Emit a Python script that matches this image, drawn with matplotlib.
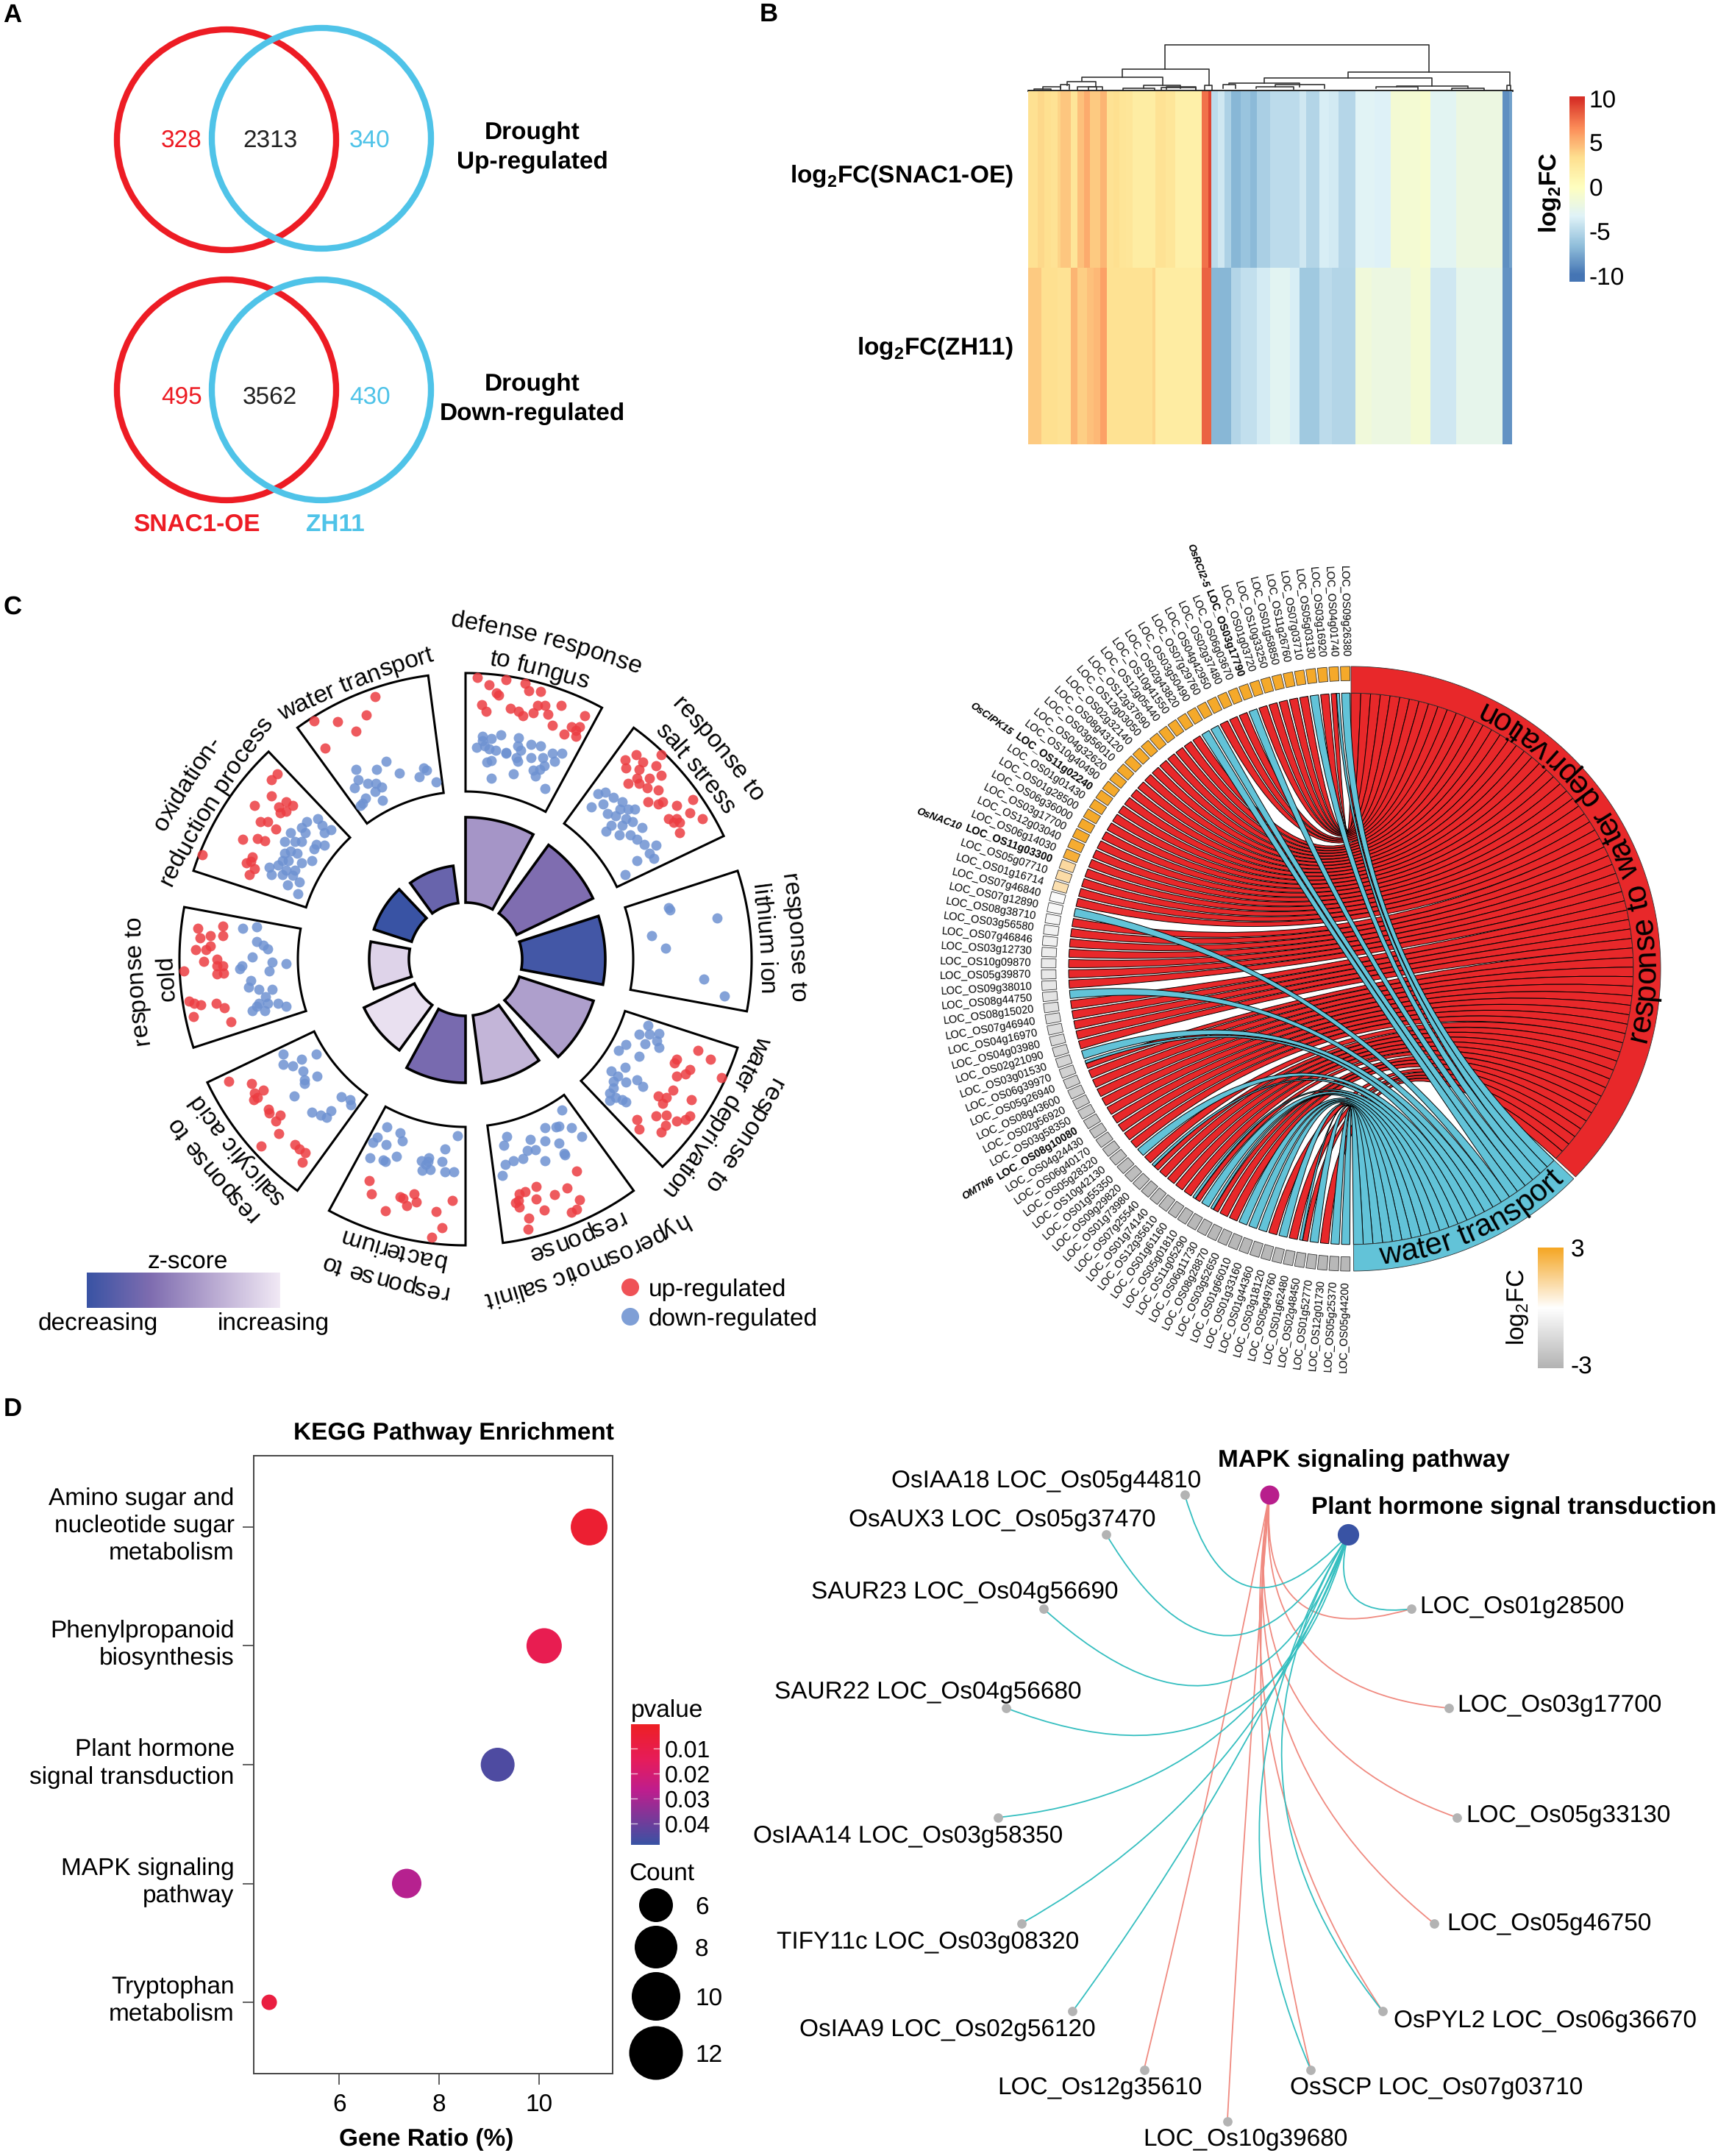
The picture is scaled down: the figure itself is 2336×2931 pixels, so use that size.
import numpy as np
import matplotlib
matplotlib.use("Agg")
import matplotlib.pyplot as plt
from matplotlib.colors import LinearSegmentedColormap, Normalize
from matplotlib.font_manager import FontProperties
from matplotlib.patches import Ellipse, PathPatch, Polygon
from matplotlib.path import Path
from matplotlib.textpath import text_to_path
from matplotlib.transforms import ScaledTranslation

plt.rcParams["font.family"] = ["Liberation Sans", "DejaVu Sans"]
plt.rcParams["font.size"] = 24
plt.rcParams["text.hinting"] = "no_hinting"
plt.rcParams["mathtext.fontset"] = "custom"
plt.rcParams["mathtext.rm"] = "Liberation Sans"
plt.rcParams["mathtext.bf"] = "Liberation Sans:bold"
plt.rcParams["mathtext.default"] = "regular"

W, H = 2336, 2931
RED, BLUE = "#ED1C24", "#4FC3E8"

# panel A
venn_up = ["328", "2313", "340"]
venn_down = ["495", "3562", "430"]

# panel B, value and number of columns of each stripe
snac_vals = [3.2, 3.6, 3.3, 3.0, 3.8, 4.3, 2.7, 4.6, 5.4, 4.2, 5.0, 3.0, 3.3, 2.8, 2.6, 1.9, 3.0, 2.6, 1.5, 7.6, 9.2,
             -4.8, -4, -5.4, -7, -6.3, -6.8, -5.6, -4.8, -4, -5.2, -3.6, -3.9, -5.1, -3.2, -3.4, -1.2, -.8, -3, -2, -8.8, -8]
snac_cols = [3, 2, 2, 2, 1, 3, 2, 2, 2, 3, 2, 2, 2, 2, 2, 7, 3, 3, 8, 2, 1,
             2, 2, 2, 3, 3, 2, 4, 9, 2, 4, 3, 3, 5, 6, 5, 9, 3, 8, 14, 2, 1]
zh11_vals = [4.2, 3.3, 3.0, 5.0, 4.0, 4.6, 4.9, 5.8, 3.1, 3.7, 2.0, 8.2,
             -7, -5.2, -4.6, -3.8, -3, -3.6, -6, -4.8, -5.2, -1.6, -2, -1.2, -4, -2.6, -8.6]
zh11_cols = [4, 5, 4, 2, 3, 2, 2, 2, 14, 1, 14, 3,
             6, 3, 5, 4, 6, 3, 6, 4, 7, 5, 12, 6, 8, 14, 3]
# left, right, top, bottom left, bottom right
dendro = [(458, 1260, 30, 120, 130), (326, 592, 120, 150, 178), (203, 450, 150, 163, 178),
          (160, 247, 165, 178, 185), (1015, 1507, 130, 152, 178), (760, 1270, 152, 170, 180),
          (652, 867, 170, 175, 185), (635, 672, 175, 188, 190), (792, 942, 177, 185, 190),
          (735, 850, 183, 190, 192), (1162, 1380, 180, 185, 188), (1100, 1227, 185, 190, 192),
          (1330, 1428, 188, 194, 194), (85, 138, 185, 192, 195), (138, 165, 175, 190, 192),
          (58, 110, 192, 198, 198), (190, 267, 183, 195, 195), (225, 248, 183, 195, 195),
          (393, 505, 178, 190, 188), (330, 425, 190, 198, 196), (445, 552, 187, 195, 196),
          (462, 552, 185, 192, 192), (578, 600, 178, 198, 198), (1498, 1510, 178, 198, 198)]

# panel C, z-score of the bars and their length
go_terms = [["defense response", "to fungus"], ["response to", "salt stress"], ["response to", "lithium ion"],
            ["response to", "water deprivation"], ["hyperosmotic salinit", "response"], ["response to", "bacterium"],
            ["response to", "salicylic acid"], ["response to", "cold"], ["oxidation-", "reduction process"],
            ["water transport"]]
go_z = [.55, .33, .05, .6, .72, .3, .95, .88, 0, .22]
go_bar = [116, 115, 113, 106, 93, 91, 76, 54, 54, 51]

defense_up = [(783,190),(810,205),(850,195),(895,202),(905,218),(932,220),(828,222),(833,228),(792,247),(803,262),(860,255),(880,262),(890,272),(915,265),(925,250),(942,250),(950,268),(980,250),(1037,272),(960,292),(1005,295),(1025,295),(1015,315),(988,310),(1015,303)]
defense_down = [(795,315),(780,338),(800,335),(815,320),(838,312),(880,318),(810,342),(825,345),(850,350),(878,335),(885,345),(910,332),(932,335),(875,360),(910,360),(938,360),(960,352),(982,352),(805,370),(815,367),(878,368),(965,368),(940,378),(930,385),(915,388),(868,395),(920,400),(815,405),(942,427),(850,352),(795,325)]
salt_up = [(1132,365),(1158,355),(1175,370),(1218,355),(1135,382),(1165,385),(1205,378),(1218,398),(1160,405),(1190,405),(1140,415),(1165,415),(1185,425),(1210,430),(1187,455),(1210,460),(1222,455),(1255,462),(1292,450),(1255,490),(1235,490),(1315,490),(1262,498),(1248,498),(1262,520),(1285,478)]
salt_down = [(1052,465),(1068,438),(1085,435),(1080,460),(1105,445),(1125,455),(1155,470),(1090,480),(1110,485),(1135,490),(1150,497),(1100,505),(1125,505),(1118,525),(1088,518),(1145,525),(1172,510),(1160,535),(1177,545),(1205,548),(1190,565),(1200,575),(1160,580),(1132,610),(1120,470),(1140,470)]
lithium_down = [(1235,680),(1238,685),(1350,703),(1195,740),(1228,766),(1318,832),(1368,868)]
deprivation_up = [(1305,985),(1335,1003),(1255,1003),(1250,1012),(1285,1025),(1275,1035),(1255,1040),(1360,1042),(1245,1070),(1230,1085),(1210,1082),(1222,1097),(1290,1090),(1205,1125),(1230,1122),(1285,1125),(1275,1132),(1255,1135),(1160,1132),(1165,1152),(1218,1158),(1228,1145)]
deprivation_down = [(1187,932),(1165,950),(1190,950),(1212,948),(1135,972),(1117,985),(1180,970),(1208,965),(1212,978),(1165,998),(1132,1020),(1100,1028),(1115,1040),(1105,1050),(1135,1052),(1160,1048),(1175,1062),(1105,1065),(1095,1075),(1125,1090),(1095,1092),(1110,1085),(1135,1095)]
hyper_up = [(1018,1242),(882,1290),(895,1285),(922,1275),(995,1278),(965,1292),(1025,1303),(880,1305),(872,1310),(922,1302),(882,1318),(940,1325),(1018,1323),(1005,1330),(905,1342),(903,1365)]
hyper_down = [(983,1112),(968,1148),(975,1146),(942,1150),(1005,1150),(1030,1168),(852,1168),(908,1175),(845,1187),(942,1178),(975,1183),(920,1197),(900,1198),(988,1205),(990,1207),(942,1220),(890,1215),(868,1220),(848,1228),(842,1252)]
bacterium_up = [(527,1263),(532,1290),(600,1297),(607,1300),(633,1290),(638,1307),(615,1315),(723,1305),(565,1327),(685,1328),(698,1363),(675,1383)]
bacterium_down = [(568,1147),(600,1160),(736,1167),(545,1170),(535,1180),(567,1185),(605,1178),(705,1195),(528,1213),(560,1218),(565,1222),(590,1210),(698,1222),(668,1213),(650,1220),(660,1228),(670,1238),(652,1240),(665,1222),(727,1243),(705,1243)]
salicylic_up = [(193,1050),(247,1055),(275,1070),(255,1075),(262,1085),(252,1090),(288,1110),(315,1122),(290,1118),(305,1135),(312,1162),(270,1188),(350,1185),(360,1195),(375,1202),(368,1223)]
salicylic_down = [(322,993),(400,992),(365,1003),(322,1015),(345,1018),(370,1028),(402,1040),(373,1048),(373,1055),(348,1082),(460,1083),(480,1090),(482,1100),(390,1117),(435,1113),(412,1122),(425,1128)]
cold_up = [(120,725),(180,720),(150,740),(125,745),(180,740),(150,762),(115,770),(140,770),(135,795),(165,790),(165,805),(180,805),(165,822),(182,820),(87,815),(100,880),(112,885),(127,887),(163,885),(183,893),(110,913),(198,923)]
cold_down = [(227,725),(260,722),(260,752),(275,760),(285,768),(250,785),(225,805),(220,810),(297,797),(330,800),(290,815),(245,835),(240,850),(265,855),(297,855),(280,870),(265,885),(260,890),(285,885),(310,885),(330,890),(250,900),(278,900)]
oxidation_up = [(308,395),(295,408),(295,442),(255,463),(345,462),(330,455),(312,465),(330,475),(315,478),(268,497),(285,497),(305,513),(227,535),(262,533),(278,538),(130,568),(250,572),(245,582),(235,585),(255,597),(242,610)]
oxidation_down = [(405,490),(378,497),(415,505),(435,515),(420,520),(365,510),(340,520),(375,520),(325,540),(350,540),(365,540),(400,545),(420,548),(395,555),(340,560),(325,565),(355,565),(390,580),(320,580),(335,580),(365,585),(290,595),(310,590),(330,600),(350,600),(295,610),(320,610),(345,612),(332,632),(358,650),(360,625)]
transport_up = [(540,231),(396,282),(452,284),(520,270),(495,304),(422,340)]
transport_down = [(495,385),(566,369),(543,385),(598,393),(655,382),(662,388),(645,402),(685,413),(500,408),(522,415),(492,425),(542,415),(555,423),(540,432),(518,447),(557,452),(510,458),(505,462)]

go_up = [defense_up, salt_up, deprivation_up, hyper_up, bacterium_up, salicylic_up, cold_up, oxidation_up, transport_up]
go_down = [defense_down, salt_down, lithium_down, deprivation_down, hyper_down, bacterium_down, salicylic_down, cold_down, oxidation_down, transport_down]

# chord plot
chord_genes = ["09g26380", "04g01740", "03g16920", "05g03130", "07g03710", "11g26760", "01g58850", "10g33250", "01g03720",
               "03g17790", "06g03670", "02g37480", "04g42950", "07g29760", "03g50490", "02g43820", "10g41550", "12g05440",
               "12g37690", "12g03050", "02g32140", "08g43120", "03g56010", "04g32620", "10g40490", "11g02240", "01g01430",
               "01g28500", "06g36000", "03g17700", "12g03040", "06g14030", "11g03300", "05g07710", "01g16714", "07g46840",
               "07g12890", "08g38710", "03g56580", "07g46846", "03g12730", "10g09870", "05g39870", "09g38010", "08g44750",
               "08g15020", "07g46940", "04g16970", "04g03980", "02g21090", "03g01530", "06g39970", "05g26940", "08g43600",
               "02g56920", "03g58350", "08g10080", "04g24430", "06g40170", "05g28320", "10g42130", "01g55350", "09g29820",
               "01g73980", "07g25540", "01g74140", "12g35610", "01g61160", "05g01810", "11g05290", "06g11730", "08g28870",
               "03g52650", "01g66010", "01g33160", "01g44360", "03g18120", "05g49760", "01g62480", "02g48450", "01g52770",
               "12g01730", "05g25370", "05g44200"]
named_genes = {9: "OsRCI2-5", 25: "OsCIPK15", 32: "OsNAC10", 56: "OMTN6"}
cyan_genes = [0, 3, 9, 13, 14, 36, 44, 50, 61, 69, 73, 74, 75, 77, 80, 82, 83]
both_genes = [1, 51, 63, 68, 70, 79]
gene_fc = [2.9, 2.9, 2.9, 2.9, 2.9, 2.9, 2.9, 2.9, 2.9, 2.9, 2.9, 2.9, 2.9, 2.9, 2.9, 2.9, 2.9, 2.9, 2.9, 2.9, 2.9,
           2.9, 2.9, 2.9, 2.9, 2.9, 2.9, 2.9, 2.9, 2.9, 2.8, 2.7, 1.3, 1.2, 1.1, -.2, -.3, -.4, -.5, -.6, -.7, -.8, -.9,
           -1.0, -1.1, -1.2, -1.3, -1.4, -1.5, -1.6, -1.7, -1.8, -1.9, -2.0, -2.1, -2.2, -2.3, -2.4, -2.4, -2.5, -2.5,
           -2.6, -2.6, -2.6, -2.7, -2.7, -2.7, -2.7, -2.8, -2.8, -2.8, -2.8, -2.8, -2.8, -2.8, -2.8, -2.8, -2.8, -2.8,
           -2.8, -2.8, -2.8, -2.8, -2.8]

# panel D
kegg_terms = ["Tryptophan\nmetabolism", "MAPK signaling\npathway", "Plant hormone\nsignal transduction",
              "Phenylpropanoid\nbiosynthesis", "Amino sugar and\nnucleotide sugar\nmetabolism"]
gene_ratio = [4.6, 7.35, 9.17, 10.1, 11.0]
gene_count = [5, 8, 10, 11, 12]
pvalue = [.008, .028, .045, .012, .004]
count_legend = [6, 8, 10, 12]

hub_nodes = {"mapk": (852, 160), "hormone": (978, 245)}
net_nodes = {"OsIAA18 LOC_Os05g44810": (717, 160), "OsAUX3 LOC_Os05g37470": (592, 245),
             "SAUR23 LOC_Os04g56690": (492, 403), "SAUR22 LOC_Os04g56680": (432, 614),
             "OsIAA14 LOC_Os03g58350": (419, 847), "TIFY11c LOC_Os03g08320": (456, 1073),
             "OsIAA9 LOC_Os02g56120": (538, 1260), "LOC_Os12g35610": (652, 1384), "LOC_Os10g39680": (785, 1494),
             "OsSCP LOC_Os07g03710": (918, 1384), "OsPYL2 LOC_Os06g36670": (1033, 1260),
             "LOC_Os05g46750": (1115, 1073), "LOC_Os05g33130": (1151, 847), "LOC_Os03g17700": (1138, 614),
             "LOC_Os01g28500": (1078, 403)}
# a point half way along each edge
hormone_edges = {"OsIAA18 LOC_Os05g44810": (820, 355), "OsAUX3 LOC_Os05g37470": (785, 460),
                 "SAUR23 LOC_Os04g56690": (777, 560), "SAUR22 LOC_Os04g56680": (780, 630),
                 "OsIAA14 LOC_Os03g58350": (772, 668), "TIFY11c LOC_Os03g08320": (775, 725),
                 "OsIAA9 LOC_Os02g56120": (780, 765), "OsSCP LOC_Os07g03710": (838, 805),
                 "OsPYL2 LOC_Os06g36670": (873, 762), "LOC_Os01g28500": (985, 375)}
mapk_edges = {"LOC_Os01g28500": (900, 390), "LOC_Os03g17700": (911, 482), "LOC_Os05g33130": (895, 590),
              "LOC_Os05g46750": (884, 667), "OsPYL2 LOC_Os06g36670": (862, 733), "OsSCP LOC_Os07g03710": (845, 773),
              "LOC_Os10g39680": (815, 827), "LOC_Os12g35610": (757, 775)}
net_labels = {"OsIAA18 LOC_Os05g44810": ("right", 743, 125), "OsAUX3 LOC_Os05g37470": ("right", 671, 207),
              "SAUR23 LOC_Os04g56690": ("right", 611, 362), "SAUR22 LOC_Os04g56680": ("right", 552, 575),
              "OsIAA14 LOC_Os03g58350": ("right", 523, 882), "TIFY11c LOC_Os03g08320": ("right", 548, 1107),
              "OsIAA9 LOC_Os02g56120": ("right", 575, 1294), "LOC_Os12g35610": ("right", 745, 1417),
              "LOC_Os10g39680": ("left", 650, 1527), "OsSCP LOC_Os07g03710": ("left", 885, 1417),
              "OsPYL2 LOC_Os06g36670": ("left", 1051, 1274), "LOC_Os05g46750": ("left", 1135, 1068),
              "LOC_Os05g33130": ("left", 1166, 838), "LOC_Os03g17700": ("left", 1152, 603),
              "LOC_Os01g28500": ("left", 1092, 393)}

fig = plt.figure(figsize=(W / 100, H / 100), dpi=100)
ax = fig.add_axes([0, 0, 1, 1])
ax.set_xlim(0, W)
ax.set_ylim(H, 0)
ax.axis("off")


def px_axes(x0, y0, x1, y1):
    return fig.add_axes([x0 / W, 1 - y1 / H, (x1 - x0) / W, (y1 - y0) / H])


def text_w(s, size, weight="normal"):
    prop = FontProperties(family="Liberation Sans", size=size, weight=weight)
    return text_to_path.get_text_width_height_descent(s, prop, False)[0] * 100 / 72


def letter_pos(s, size):
    # middle of each letter measured from the middle of the string
    base = text_w("x", size)
    total = text_w(s + "x", size) - base
    out = []
    for i in range(len(s)):
        a = text_w(s[:i] + "x", size) - base
        b = text_w(s[:i + 1] + "x", size) - base
        out.append((a + b) / 2 - total / 2)
    return out


def curved_in(s, cx, cy, rx, ry, center, size):
    # tops of the letters to the centre, running anticlockwise
    r = (rx + ry) / 2
    for ch, off in zip(s, letter_pos(s, size)):
        t = center - np.degrees(off / r)
        ax.text(cx + rx * np.sin(np.radians(t)), cy - ry * np.cos(np.radians(t)), ch, fontsize=size, ha="center",
                va="baseline", rotation_mode="anchor", rotation=180 - t, zorder=4)


def bent_out(s, cx, cy, r, center, size, bend=1200):
    # nearly straight line on the outside of the circle, tops outward
    c = np.radians(center)
    mx, my = cx + r * np.sin(c), cy - r * np.cos(c)
    for ch, off in zip(s, letter_pos(s, size)):
        phi = off / bend
        x = mx + bend * (np.sin(phi) * np.cos(c) + (np.cos(phi) - 1) * np.sin(c))
        y = my + bend * (np.sin(phi) * np.sin(c) - (np.cos(phi) - 1) * np.cos(c))
        ax.text(x, y, ch, fontsize=size, ha="center", va="baseline", rotation_mode="anchor",
                rotation=-(center + np.degrees(phi)))


for i, label in enumerate(["A", "B", "C", "D"]):
    ax.text([17, 1045, 17, 17][i], [18, 17, 823, 1913][i], label, fontsize=25, fontweight="bold",
            ha="center", va="center")

# ---- A
for cy_red, cy_blue, texts, ty in [(190, 188, venn_up, 188), (530, 530, venn_down, 537)]:
    ax.add_patch(Ellipse((308, cy_red), 298, 300, fill=False, ec=RED, lw=6))
    ax.add_patch(Ellipse((437, cy_blue), 298, 300, fill=False, ec=BLUE, lw=6))
    ax.text(247, ty, texts[0], color=RED, ha="center", va="center")
    ax.text(367, ty, texts[1], color="#222222", ha="center", va="center")
    ax.text(503, ty, texts[2], color=BLUE, ha="center", va="center")
ax.text(724, 178, "Drought", fontweight="bold", ha="center", va="center")
ax.text(724, 218, "Up-regulated", fontweight="bold", ha="center", va="center")
ax.text(724, 520, "Drought", fontweight="bold", ha="center", va="center")
ax.text(724, 560, "Down-regulated", fontweight="bold", ha="center", va="center")
ax.text(267, 710, "SNAC1-OE", color=RED, fontweight="bold", ha="center", va="center")
ax.text(456, 710, "ZH11", color=BLUE, fontweight="bold", ha="center", va="center")

# ---- B
heat_cmap = LinearSegmentedColormap.from_list("heat", ["#4575B4", "#91BFDB", "#E0F3F8", "#FFFFBF", "#FEE090", "#FC8D59", "#D73027"])
heat = np.vstack([np.repeat(snac_vals, snac_cols), np.repeat(zh11_vals, zh11_cols)])
ax_heat = px_axes(1398, 124, 2056, 604)
ax_heat.imshow(heat, aspect="auto", cmap=heat_cmap, vmin=-10, vmax=10, interpolation="nearest")
ax_heat.axis("off")


def dx(v):
    return 1380 + v * 700 / 1568


def dy(v):
    return 50 + v * 580 / 1568


for left, right, top, bl, br in dendro:
    ax.plot([dx(left), dx(left), dx(right), dx(right)], [dy(bl), dy(top), dy(top), dy(br)], color="#333333", lw=1.2)
ax.plot([dx(40), dx(1515)], [dy(197), dy(197)], color="#222222", lw=2)

ax.text(1378, 237, r"log$_{\mathbf{2}}$FC(SNAC1-OE)", fontweight="bold", ha="right", va="center", fontsize=24)
ax.text(1378, 471, r"log$_{\mathbf{2}}$FC(ZH11)", fontweight="bold", ha="right", va="center", fontsize=24)
ax_hc = px_axes(2134, 131, 2155, 383)
ax_hc.imshow(np.linspace(10.2, -10.7, 256)[:, None], aspect="auto", cmap=heat_cmap, vmin=-10, vmax=10,
             extent=[0, 1, -10.7, 10.2])
ax_hc.set_xticks([])
ax_hc.yaxis.tick_right()
ax_hc.set_yticks([10, 5, 0, -5, -10])
ax_hc.set_yticklabels(["10", "5", "0", "-5", "-10"], fontsize=24)
ax_hc.tick_params(length=0, pad=4)
for s in ax_hc.spines.values():
    s.set_visible(False)
ax.text(2108, 262, r"log$_{\mathbf{2}}$FC", fontweight="bold", rotation=90, ha="center", va="center", fontsize=24)

# ---- C
GX, GY = 633, 1304
z_cmap = LinearSegmentedColormap.from_list("z", [(0, "#3953A4"), (.33, "#7F6DB0"), (.66, "#B9AAD2"), (1, "#F1E9F5")])


def wedge(r0, r1, a0, a1):
    t = np.radians(np.linspace(a0, a1, 40))
    outer = np.c_[GX + r1 * np.sin(t), GY - r1 * np.cos(t)]
    inner = np.c_[GX + r0 * np.sin(t), GY - r0 * np.cos(t)][::-1]
    return np.vstack([outer, inner])


def gc(p):
    return 200 + p[0] * 900 / 1568, 800 + p[1] * 1000 / 1568


for i, lines in enumerate(go_terms):
    a0, a1 = 36 * i, 36 * i + 28.5
    ax.add_patch(Polygon(wedge(228, 389, a0, a1), closed=True, fc="white", ec="black", lw=2.2, joinstyle="miter"))
    ax.add_patch(Polygon(wedge(77, 77 + go_bar[i], a0, a1), closed=True, fc=z_cmap(go_z[i]), ec="black", lw=2.6,
                         joinstyle="miter"))
    radii = [440, 398] if len(lines) == 2 else [398]
    for line, r in zip(lines, radii):
        bent_out(line, GX, GY, r, 36 * i + 14.25, 24)

for dots, col in [(go_up, "#EC3D42"), (go_down, "#6E92D2")]:
    for term in dots:
        xy = np.array([gc(p) for p in term])
        ax.scatter(xy[:, 0], xy[:, 1], s=100, c=col, alpha=.85, linewidths=0, zorder=3)

ax_z = px_axes(118, 1730, 381, 1778)
ax_z.imshow(np.linspace(0, 1, 256)[None, :], aspect="auto", cmap=z_cmap, vmin=0, vmax=1)
ax_z.axis("off")
ax.text(255, 1713, "z-score", ha="center", va="center")
ax.text(133, 1797, "decreasing", ha="center", va="center")
ax.text(372, 1797, "increasing", ha="center", va="center")
ax.scatter([857, 857], [1750, 1790], s=300, c=["#EF5257", "#7F9FD6"], linewidths=0)
ax.text(882, 1751, "up-regulated", ha="left", va="center")
ax.text(882, 1791, "down-regulated", ha="left", va="center")

# chord plot
CX, CY, RX, RY = 1837, 1317, 421, 411
fc_cmap = LinearSegmentedColormap.from_list("fc", ["#B3B3B3", "#FFFFFF", "#F5A623"])
fc_norm = Normalize(-3, 3)
RIB = .912


def pt(deg, r=1.0):
    t = np.radians(deg)
    return CX + RX * r * np.sin(t), CY - RY * r * np.cos(t)


def arc(a0, a1, r):
    return [pt(a, r) for a in np.linspace(a0, a1, max(8, int(abs(a1 - a0) * 2)))]


def ring(a0, a1, r0, r1, **kw):
    pts = arc(a0, a1, r1) + arc(a1, a0, r0)
    ax.add_patch(Polygon(pts, closed=True, **kw))


def ribbon(g0, g1, t0, t1, color, z):
    verts = arc(-g0, -g1, RIB)
    codes = [Path.MOVETO] + [Path.LINETO] * (len(verts) - 1)
    verts += [(CX, CY), pt(t1, RIB)]
    codes += [Path.CURVE3, Path.CURVE3]
    more = arc(t1, t0, RIB)[1:]
    verts += more
    codes += [Path.LINETO] * len(more)
    verts += [(CX, CY), pt(-g0, RIB)]
    codes += [Path.CURVE3, Path.CURVE3]
    ax.add_patch(PathPatch(Path(verts, codes), fc=color, ec="black", lw=.7, zorder=z))


n_genes = len(chord_genes)
step = 180 / n_genes
red_links, cyan_links = [], []
for i in range(n_genes):
    g0, g1 = i * step + .2, i * step + 1.9
    if i in cyan_genes:
        cyan_links.append((g0, g1))
    elif i in both_genes:
        cyan_links.append((g0, g0 + .6))
        red_links.append((g0 + .65, g1))
    else:
        red_links.append((g0, g1))
    ring(-i * step - .2, -i * step - 1.96, .953, 1, fc=fc_cmap(fc_norm(gene_fc[i])), ec="#333333", lw=.6)
    x, y = pt(-(i * step + 1.05), 1.032)
    bold = i in named_genes
    label = "LOC_OS" + chord_genes[i]
    ax.text(x, y, label, fontsize=10.5, fontweight="bold" if bold else "normal", ha="right", va="center",
            rotation=i * step + 1.05 - 90, rotation_mode="anchor")
    if bold:
        x, y = pt(-(i * step + 1.05), 1.032 + (text_w(label, 10.5, "bold") + 5) / 415)
        ax.text(x, y, named_genes[i], fontsize=10, fontweight="bold", style="italic", ha="right", va="center",
                rotation=i * step + 1.05 - 90, rotation_mode="anchor")

RED_END, CY_START, CY_END = 133.5, 134, 179.5
w = RED_END / len(red_links)
for k, (g0, g1) in enumerate(red_links):
    ribbon(g0, g1, k * w, (k + 1) * w, "#E8282A", 2)
w = (CY_END - CY_START) / len(cyan_links)
for k, (g0, g1) in enumerate(cyan_links):
    ribbon(g0, g1, CY_START + k * w, CY_START + (k + 1) * w, "#62C3D8", 2.5)
ring(0, RED_END, RIB, 1, fc="#E8282A", ec="#333333", lw=.6, zorder=3)
ring(CY_START, CY_END, RIB, 1, fc="#62C3D8", ec="#333333", lw=.6, zorder=3)
curved_in("response to water deprivation", CX, CY, RX * .982, RY * .982, 65, 31)
curved_in("water transport", CX, CY, RX * .982, RY * .982, 155, 30)

ax_fc = px_axes(2091, 1696, 2126, 1860)
ax_fc.imshow(np.linspace(3, -3, 256)[:, None], aspect="auto", cmap=fc_cmap, vmin=-3, vmax=3)
ax_fc.axis("off")
ax.text(2136, 1696, "3", ha="left", va="center")
ax.text(2136, 1855, "-3", ha="left", va="center")
ax.text(2064, 1777, r"log$_{2}$FC", rotation=90, ha="center", va="center")

# ---- D dot plot
dot_cmap = LinearSegmentedColormap.from_list("p", [(0, "#EE2024"), (.3, "#E61C5C"), (.55, "#BE1E8E"), (1, "#3953A4")])
p_norm = Normalize(0.0003, 0.0485)
ax_dot = px_axes(345, 1979, 833, 2819)
dot_d = np.interp(gene_count, [5, 8, 10, 11, 12], [21, 40, 46, 48, 50])
ax_dot.scatter(gene_ratio, range(1, 6), s=(dot_d * .72) ** 2, c=pvalue, cmap=dot_cmap, norm=p_norm, linewidths=0)
ax_dot.set_xlim(4.29, 11.47)
ax_dot.set_ylim(.4, 5.6)
ax_dot.set_xticks([6, 8, 10])
ax_dot.set_yticks(range(1, 6))
ax_dot.set_yticklabels(kegg_terms, ha="right", multialignment="right", linespacing=1.27)
ax_dot.tick_params(length=11, width=1.2, color="#444444", pad=8)
for lbl in ax_dot.get_yticklabels():
    lbl.set_transform(lbl.get_transform() + ScaledTranslation(0, .08, fig.dpi_scale_trans))
for s in ax_dot.spines.values():
    s.set_color("#444444")
    s.set_linewidth(1.4)
ax.text(617, 1946, "KEGG Pathway Enrichment", fontweight="bold", ha="center", va="center")
ax.text(580, 2906, "Gene Ratio (%)", fontweight="bold", ha="center", va="center")

ax.text(858, 2323, "pvalue", ha="left", va="center")
ax_p = px_axes(858, 2344, 897, 2508)
ax_p.imshow(np.linspace(.0003, .0485, 256)[:, None], aspect="auto", cmap=dot_cmap, norm=p_norm,
            extent=[0, 1, .0485, .0003])
ax_p.set_xticks([])
ax_p.yaxis.tick_right()
ax_p.set_yticks([.01, .02, .03, .04])
ax_p.set_yticklabels(["0.01", "0.02", "0.03", "0.04"], fontsize=23)
ax_p.tick_params(length=0, pad=5)
for s in ax_p.spines.values():
    s.set_visible(False)
for v in [.01, .02, .03, .04]:
    ax_p.plot([0, .2], [v, v], color="white", lw=1, alpha=.7)
    ax_p.plot([.8, 1], [v, v], color="white", lw=1, alpha=.7)
ax_p.set_xlim(0, 1)
ax_p.set_ylim(.0485, .0003)

ax.text(855, 2544, "Count", ha="left", va="center")
legend_d = np.interp(count_legend, [6, 8, 10, 12], [46, 58, 66, 73])
legend_y = [2590, 2647, 2714, 2791]
ax.scatter([892] * 4, legend_y, s=(legend_d * .72) ** 2, c="black", linewidths=0)
for c, y in zip(count_legend, legend_y):
    ax.text(945, y, str(c), ha="left", va="center")


# ---- D network
def nc(p):
    return 1000 + p[0] * 1336 / 1568, 1930 + p[1] * 1001 / 1568


def edge(a, via, b, color):
    a, via, b = np.array(nc(a)), np.array(nc(via)), np.array(nc(b))
    ctrl = 2 * via - (a + b) / 2
    ax.add_patch(PathPatch(Path([a, ctrl, b], [Path.MOVETO, Path.CURVE3, Path.CURVE3]), fc="none", ec=color, lw=1.3))


for gene, via in mapk_edges.items():
    edge(net_nodes[gene], via, hub_nodes["mapk"], "#F08A80")
for gene, via in hormone_edges.items():
    edge(net_nodes[gene], via, hub_nodes["hormone"], "#35BFC0")
xy = np.array([nc(p) for p in net_nodes.values()])
ax.scatter(xy[:, 0], xy[:, 1], s=85, c="#B3B3B3", linewidths=0, zorder=3)
for p, col, s in [(hub_nodes["mapk"], "#B81E8C", 350), (hub_nodes["hormone"], "#3953A4", 440)]:
    ax.scatter(*nc(p), s=s, c=col, linewidths=0, zorder=3)
for gene, (ha, x, y) in net_labels.items():
    ax.text(*nc((x, y)), gene, ha=ha, va="center")
ax.text(*nc((770, 82)), "MAPK signaling pathway", fontweight="bold", ha="left", va="center")
ax.text(*nc((919, 182)), "Plant hormone signal transduction", fontweight="bold", ha="left", va="center")

# centred labels sit a little high compared with the reference
for t in ax.texts:
    if t.get_va() == "center" and t.get_rotation() == 0:
        t.set_y(t.get_position()[1] + 3)

fig.savefig("out.png", dpi=100)
